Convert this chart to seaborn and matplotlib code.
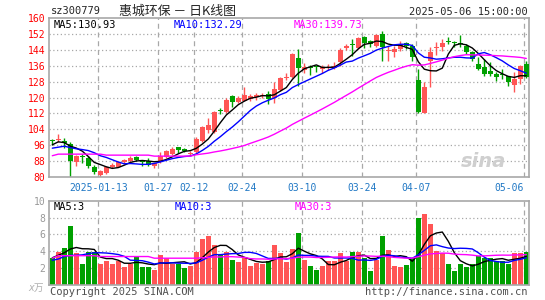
import numpy as np
import pandas as pd
import matplotlib
matplotlib.use("Agg")
import matplotlib.pyplot as plt
import seaborn as sns

# trading days shown on the chart (2024-12-31 .. 2025-05-06)
dates = ["2024-12-31", "2025-01-02", "2025-01-03", "2025-01-06", "2025-01-07", "2025-01-08",
         "2025-01-09", "2025-01-10", "2025-01-13", "2025-01-14", "2025-01-15", "2025-01-16",
         "2025-01-17", "2025-01-20", "2025-01-21", "2025-01-22", "2025-01-23", "2025-01-24",
         "2025-01-27", "2025-02-05", "2025-02-06", "2025-02-07", "2025-02-10", "2025-02-11",
         "2025-02-12", "2025-02-13", "2025-02-14", "2025-02-17", "2025-02-18", "2025-02-19",
         "2025-02-20", "2025-02-21", "2025-02-24", "2025-02-25", "2025-02-26", "2025-02-27",
         "2025-02-28", "2025-03-03", "2025-03-04", "2025-03-05", "2025-03-06", "2025-03-07",
         "2025-03-10", "2025-03-11", "2025-03-12", "2025-03-13", "2025-03-14", "2025-03-17",
         "2025-03-18", "2025-03-19", "2025-03-20", "2025-03-21", "2025-03-24", "2025-03-25",
         "2025-03-26", "2025-03-27", "2025-03-28", "2025-03-31", "2025-04-01", "2025-04-02",
         "2025-04-03", "2025-04-07", "2025-04-08", "2025-04-09", "2025-04-10", "2025-04-11",
         "2025-04-14", "2025-04-15", "2025-04-16", "2025-04-17", "2025-04-18", "2025-04-21",
         "2025-04-22", "2025-04-23", "2025-04-24", "2025-04-25", "2025-04-28", "2025-04-29",
         "2025-04-30", "2025-05-06"]

opens = [98.1, 98.6, 98.3, 96.8, 87.7, 90.4, 89.5, 84.8, 80.9, 82.0,
         84.8, 85.2, 87.3, 88.0, 90.0, 87.9, 88.0, 85.3, 87.7, 90.2,
         91.5, 95.0, 94.2, 91.8, 92.5, 98.2, 103.8, 102.7, 113.7, 112.7,
         121.0, 117.5, 118.3, 119.3, 120.3, 120.8, 122.0, 119.5, 124.0, 129.8,
         130.5, 140.0, 134.0, 135.0, 135.4, 134.5, 135.0, 135.0, 137.7, 145.0,
         147.0, 145.0, 150.2, 148.5, 146.0, 151.8, 143.3, 142.7, 144.3, 147.5,
         146.0, 129.0, 112.2, 138.5, 145.0, 145.2, 148.4, 147.9, 147.4, 146.0,
         142.7, 136.8, 135.2, 133.2, 131.8, 131.8, 130.7, 126.5, 129.3, 136.8]
highs = [99.0, 101.5, 99.5, 97.7, 91.0, 91.4, 90.5, 85.8, 83.5, 85.3,
         87.0, 88.1, 89.0, 90.7, 90.4, 88.6, 89.4, 87.1, 92.7, 93.7,
         95.3, 95.3, 94.5, 93.3, 100.0, 105.7, 109.8, 113.0, 114.8, 120.0,
         121.5, 121.0, 125.5, 121.8, 122.2, 122.3, 123.3, 128.0, 130.3, 132.5,
         142.3, 144.5, 137.5, 136.3, 136.0, 136.5, 136.8, 137.7, 145.0, 146.8,
         149.4, 150.5, 151.0, 149.0, 152.0, 153.6, 146.0, 146.0, 148.5, 147.7,
         146.8, 134.3, 127.8, 145.2, 148.0, 149.3, 150.2, 148.5, 151.5, 146.8,
         143.5, 140.2, 139.3, 137.7, 132.7, 134.3, 131.0, 132.7, 136.2, 138.3]
lows = [96.3, 97.5, 94.5, 80.2, 85.5, 87.0, 84.5, 81.5, 80.0, 81.5,
        84.3, 84.8, 86.5, 87.5, 88.0, 85.4, 85.5, 84.7, 87.2, 89.7,
        91.0, 92.0, 92.5, 90.8, 92.0, 97.5, 102.0, 102.3, 111.6, 112.3,
        115.3, 117.0, 118.0, 118.0, 118.5, 119.8, 116.8, 117.0, 123.5, 129.0,
        130.0, 126.0, 132.3, 131.5, 132.7, 132.5, 134.0, 134.3, 136.0, 144.0,
        141.0, 144.5, 145.0, 145.3, 145.5, 138.5, 138.5, 140.2, 143.5, 144.3,
        138.2, 112.3, 112.0, 125.2, 141.5, 143.5, 146.8, 145.5, 145.5, 141.8,
        138.5, 133.8, 131.0, 131.0, 128.2, 129.3, 126.0, 122.7, 126.8, 129.8]
closes = [97.9, 98.9, 97.3, 88.2, 90.5, 90.1, 85.5, 82.4, 82.8, 84.8,
          86.2, 87.5, 88.5, 89.5, 88.5, 87.6, 86.0, 86.8, 90.5, 93.2,
          94.3, 93.5, 93.1, 92.2, 99.0, 105.0, 106.4, 112.7, 113.4, 118.5,
          117.7, 119.7, 121.5, 120.7, 121.3, 121.5, 119.2, 124.2, 129.8, 130.3,
          141.7, 135.0, 135.5, 134.7, 135.1, 135.2, 135.3, 136.0, 144.0, 145.9,
          146.5, 150.0, 147.2, 146.8, 151.5, 145.2, 143.7, 144.3, 146.8, 146.0,
          140.2, 112.7, 125.5, 143.0, 145.4, 147.3, 148.0, 147.5, 147.0, 142.7,
          139.3, 134.3, 131.8, 131.8, 130.5, 131.3, 127.7, 129.3, 136.0, 130.4]

# volume in 万
volumes = [3.2, 3.9, 4.33, 7.0, 3.73, 2.46, 3.85, 3.93, 2.46, 2.82,
           2.46, 2.86, 2.14, 2.42, 3.41, 2.14, 2.14, 1.74, 3.53, 3.14,
           2.46, 2.46, 2.02, 2.22, 3.93, 5.41, 5.85, 4.73, 3.53, 3.85,
           2.94, 2.66, 3.33, 2.26, 2.62, 2.46, 2.86, 4.73, 3.81, 2.74,
           4.26, 6.2, 2.94, 2.22, 1.74, 2.22, 2.82, 2.82, 3.73, 2.82,
           3.93, 3.93, 3.21, 1.62, 2.94, 5.85, 4.13, 2.26, 2.06, 2.34,
           3.13, 8.0, 8.44, 7.24, 4.01, 3.73, 2.46, 1.62, 2.46, 2.14,
           2.46, 3.45, 3.21, 3.21, 2.82, 2.82, 2.46, 3.81, 3.81, 3.93]

# moving-average values for the first days (history before the window)
ma5_head = [96.2, 97.7, 97.3, 95.5]
ma10_head = [94.5, 95.0, 95.5, 94.8, 94.2, 93.8, 93.3, 92.2, 90.7]
ma30_head = [90.7, 91.5, 91.5, 91.5, 91.5, 91.5, 91.5, 91.5, 91.5, 91.0,
             91.0, 91.0, 91.0, 91.0, 91.0, 91.0, 91.0, 90.5, 90.5, 90.5,
             90.5, 90.5, 90.5, 90.5, 91.2, 91.6, 92.0, 92.6, 93.1]
vma5_head = [3.2, 3.5, 3.8, 4.25]
vma10_head = [2.9, 3.05, 3.35, 3.5, 3.5, 3.55, 3.7, 3.8, 3.8]
vma30_head = [3.15, 3.45, 3.45, 3.45, 3.45, 3.45, 3.45, 3.45, 3.35, 3.35,
              3.35, 3.35, 3.35, 3.35, 3.35, 3.35, 3.35, 3.15, 3.15, 3.15,
              3.15, 3.15, 3.15, 3.15, 3.15, 3.2, 3.25, 3.3, 3.3]

# values printed in the legends of the two panels
price_ma_labels = ["MA5:130.93", "MA10:132.29", "MA30:139.73"]
vol_ma_labels = ["MA5:3", "MA10:3", "MA30:3"]

tick_dates = ["2025-01-13", "2025-01-27", "2025-02-12", "2025-02-24",
              "2025-03-10", "2025-03-24", "2025-04-07", "2025-05-06"]
tick_labels = ["2025-01-13", "01-27", "02-12", "02-24", "03-10", "03-24", "04-07", "05-06"]
price_ticks = [80, 88, 96, 104, 112, 120, 128, 136, 144, 152, 160]
vol_ticks = [2, 4, 6, 8, 10]

RED = "#ff5555"
GREEN = "#00a000"
GRID = "#a8a8a8"
BLUE_TXT = "#1f77c4"
MA_COLORS = ["black", "#0000ff", "#ff00ff"]


def moving_average(values, window, head):
    ma = pd.Series(values).rolling(window).mean()
    ma.iloc[:len(head)] = head
    return ma


def fx(x):
    return x / 545


def fy(y):
    return 1 - y / 300


def create_kline_chart():
    df = pd.DataFrame({"date": dates, "open": opens, "high": highs,
                       "low": lows, "close": closes, "volume": volumes})
    df["idx"] = np.arange(len(df))
    df["up"] = df["close"] >= df["open"]
    df["color"] = np.where(df["up"], RED, GREEN)
    df["ma5"] = moving_average(closes, 5, ma5_head)
    df["ma10"] = moving_average(closes, 10, ma10_head)
    df["ma30"] = moving_average(closes, 30, ma30_head)
    df["vma5"] = moving_average(volumes, 5, vma5_head)
    df["vma10"] = moving_average(volumes, 10, vma10_head)
    df["vma30"] = moving_average(volumes, 30, vma30_head)

    sns.set_style("white")
    plt.rcParams["font.family"] = ["DejaVu Sans Mono", "Noto Sans CJK SC"]

    fig = plt.figure(figsize=(5.45, 3.0), dpi=100)
    ax = fig.add_axes([fx(49), fy(177), fx(480), 159 / 300])
    axv = fig.add_axes([fx(49), fy(284.5), fx(480), 83.5 / 300])

    grid_x = [dates.index(d) - 0.35 for d in tick_dates]

    for a in (ax, axv):
        a.set_xlim(-0.55, 79.45)
        for s in a.spines.values():
            s.set_color(GRID)
            s.set_linewidth(1.2)
        for gx in grid_x:
            a.axvline(gx, color=GRID, lw=0.9, ls=(0, (4, 3)), zorder=0)

    # price panel
    ax.set_ylim(80, 160)
    for p in price_ticks[1:-1]:
        ax.axhline(p, color=GRID, lw=0.9, ls=(0, (1, 2)), zorder=0)
    ax.vlines(df["idx"], df["low"], df["high"], colors=df["color"], lw=1.0, zorder=2)
    body = (df["close"] - df["open"]).abs().clip(lower=0.5)
    ax.bar(df["idx"], body, bottom=df[["open", "close"]].min(axis=1),
           width=0.8, color=df["color"], linewidth=0, zorder=3)
    for col, c in zip(["ma5", "ma10", "ma30"], MA_COLORS):
        sns.lineplot(x=df["idx"], y=df[col], ax=ax, color=c, lw=1.0, zorder=4)
    ax.set_yticks(price_ticks)
    ax.set_yticklabels([str(p) for p in price_ticks])
    ax.set_xticks(grid_x)
    ax.set_xticklabels(tick_labels)
    ax.tick_params(axis="y", length=0, pad=2.5, labelsize=7, labelcolor="#ff0000")
    ax.tick_params(axis="x", length=0, pad=4.5, labelsize=7, labelcolor=BLUE_TXT)
    ax.get_xticklabels()[-1].set_horizontalalignment("right")
    ax.set_xlabel("")
    ax.set_ylabel("")
    ax.text(0.905, 0.1, "sina", transform=ax.transAxes, fontsize=14, color="#cfcfcf",
            fontweight="bold", style="italic", family="DejaVu Sans", ha="center", va="center")

    # volume panel
    axv.set_ylim(0, 10)
    for v in vol_ticks[:-1]:
        axv.axhline(v, color=GRID, lw=0.9, ls=(0, (1, 2)), zorder=0)
    axv.bar(df["idx"], df["volume"], width=0.9, color=df["color"], linewidth=0, zorder=2)
    for col, c in zip(["vma5", "vma10", "vma30"], MA_COLORS):
        sns.lineplot(x=df["idx"], y=df[col], ax=axv, color=c, lw=1.0, zorder=4)
    axv.set_yticks(vol_ticks)
    axv.set_yticklabels([str(v) for v in vol_ticks])
    axv.set_xticks(grid_x)
    axv.set_xticklabels([])
    axv.tick_params(axis="y", length=0, pad=2.5, labelsize=7, labelcolor="#999999")
    axv.tick_params(axis="x", length=0)
    axv.set_xlabel("")
    axv.set_ylabel("")

    # header and footer texts
    fig.text(fx(51), fy(11), "sz300779", fontsize=7.5, va="center")
    fig.text(fx(119), fy(11), "惠城环保 － 日K线图", fontsize=9.3, va="center",
             family=["Noto Sans CJK SC", "DejaVu Sans"])
    fig.text(fx(528), fy(12), "2025-05-06 15:00:00", fontsize=7.5, va="center", ha="right")
    for x, lab, c in zip([54, 174, 294], price_ma_labels, MA_COLORS):
        fig.text(fx(x), fy(25), lab, fontsize=7.5, va="center", color=c)
    for x, lab, c in zip([54, 175, 295], vol_ma_labels, MA_COLORS):
        fig.text(fx(x), fy(207), lab, fontsize=7.5, va="center", color=c)
    fig.text(fx(50), fy(292), "Copyright 2025 SINA.COM", fontsize=7.5, va="center", color="#505050")
    fig.text(fx(528), fy(292), "http://finance.sina.com.cn", fontsize=7.5, va="center",
             ha="right", color="#505050")
    fig.text(fx(28), fy(288), "x万", fontsize=7, va="center", color="#b0b0b0", style="italic")

    fig.savefig("out.png", dpi=100)
    plt.close(fig)


if __name__ == "__main__":
    create_kline_chart()
